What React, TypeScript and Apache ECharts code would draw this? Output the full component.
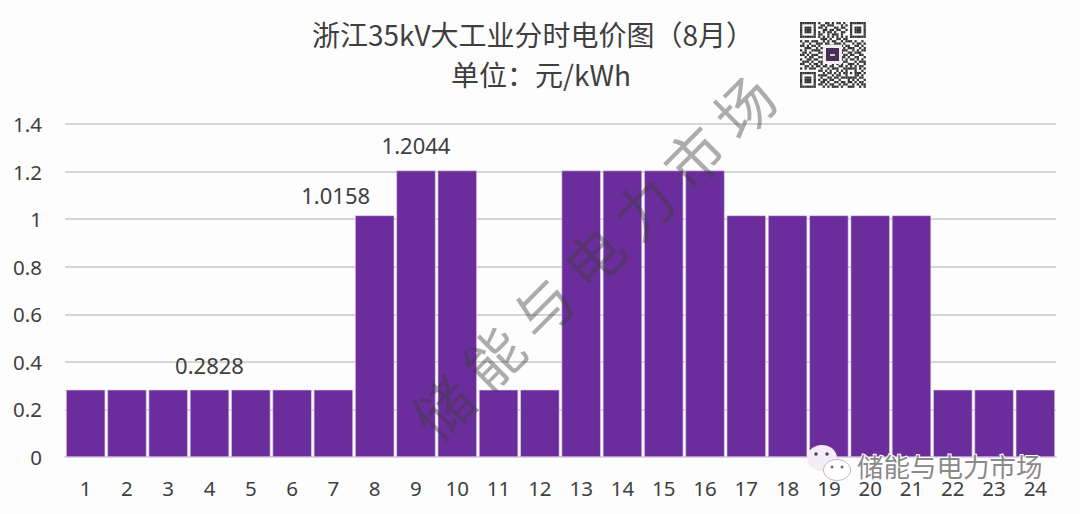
import React, { useEffect, useRef } from "react";
import * as echarts from "echarts";

const hours = ["1","2","3","4","5","6","7","8","9","10","11","12","13","14","15","16","17","18","19","20","21","22","23","24"];
const prices = [0.2828,0.2828,0.2828,0.2828,0.2828,0.2828,0.2828,1.0158,1.2044,1.2044,0.2828,0.2828,1.2044,1.2044,1.2044,1.2044,1.0158,1.0158,1.0158,1.0158,1.0158,0.2828,0.2828,0.2828];
const labelledHours = ["4","8","9"];
const titleLines = ["浙江35kV大工业分时电价图（8月）", "单位：元/kWh"];
const watermark = "储 能 与 电 力 市 场";
const account = "储能与电力市场";
const qrRows = [
  "11111110100110101101001111111",
  "10000010011011100010101000001",
  "10111010110100011011001011101",
  "10111010001101101100101011101",
  "10111010101011010011001011101",
  "10000010110010111010001000001",
  "11111110101010101010101111111",
  "00000000011101001101100000000",
  "10110111001010110010111010010",
  "01001001110110011101000101101",
  "11010110100101100110110011010",
  "00111001011011010001011100101",
  "10100111100100000011100101011",
  "01101000110100000010011011100",
  "11010111001100000001101100110",
  "00101100110100000011010011001",
  "10011011001100000010101101010",
  "01110100111011010101100010111",
  "11001011010100101010011101001",
  "00110101101101100110101010110",
  "10101110010010111001111110101",
  "00000000110101001010100010010",
  "11111110001011010101101011101",
  "10000010111100101100100011010",
  "10111010010011011011111110110",
  "10111010101101100100010101001",
  "10111010011010011011011010110",
  "10000010110101100101100101011",
  "11111110001010111010011100101",
];

const FONT = '"Noto Sans CJK SC", "Noto Sans", sans-serif';
const LATIN = '"Noto Sans", sans-serif';
const INK = "#3f3f3f";
const BAR = "#6c2d9c";

function qrGraphics() {
  const originX = 800, originY = 22, cell = 2.27;
  const out: any[] = [];
  qrRows.forEach((row, r) => {
    for (let c = 0; c < row.length; c++) {
      if (row[c] === "1") {
        out.push({
          type: "rect", z: 20, silent: true,
          shape: { x: originX + c * cell, y: originY + r * cell, width: cell, height: cell },
          style: { fill: "#333333" },
        });
      }
    }
  });
  out.push({ type: "rect", z: 21, silent: true, shape: { x: 823, y: 45, width: 19, height: 19 }, style: { fill: "#f3eef3" } });
  out.push({ type: "rect", z: 22, silent: true, shape: { x: 826, y: 48, width: 13, height: 13 }, style: { fill: "#4a2f55" } });
  out.push({ type: "rect", z: 23, silent: true, shape: { x: 830, y: 54, width: 5, height: 2 }, style: { fill: "#d9c6e2" } });
  return out;
}

function wechatGraphics() {
  const mk = (type: string, shape: any, style: any, z: number) => ({ type, shape, style, z, silent: true });
  return [
    mk("polygon", { points: [[813, 466], [812, 476], [823, 470]] }, { fill: "#ffffff" }, 30),
    mk("ellipse", { cx: 822, cy: 458, rx: 15, ry: 13 }, { fill: "#f4edf7" }, 30),
    mk("circle", { cx: 816, cy: 454, r: 1.8 }, { fill: "#5a4a60" }, 31),
    mk("circle", { cx: 827, cy: 454, r: 1.8 }, { fill: "#5a4a60" }, 31),
    mk("polygon", { points: [[842, 476], [846, 483], [835, 479]] }, { fill: "#ffffff" }, 32),
    mk("ellipse", { cx: 837, cy: 470, rx: 13.5, ry: 10.5 }, { fill: "#ffffff", stroke: "#bdbdbd", lineWidth: 1 }, 32),
    mk("circle", { cx: 832, cy: 467, r: 1.5 }, { fill: "#6d6d6d" }, 33),
    mk("circle", { cx: 842, cy: 467, r: 1.5 }, { fill: "#6d6d6d" }, 33),
  ];
}

export default function App() {
  const ref = useRef<HTMLDivElement>(null);
  useEffect(() => {
    document.body.style.margin = "0";
    const chart = echarts.init(ref.current!, null, { renderer: "svg" });
    const offsets: Record<string, number[]> = { "4": [0, -9], "8": [-39, -4], "9": [0, -10] };
    chart.setOption({
      animation: false,
      backgroundColor: "#fdfdfd",
      grid: { left: 65, right: 24, top: 124, bottom: 57 },
      xAxis: {
        type: "category",
        data: hours,
        axisTick: { show: false },
        axisLine: { lineStyle: { color: "#e2d2ea", width: 2 } },
        axisLabel: { color: INK, fontSize: 20.5, fontFamily: LATIN, margin: 20, interval: 0 },
      },
      yAxis: {
        type: "value",
        min: 0,
        max: 1.4,
        interval: 0.2,
        axisLine: { show: false },
        axisTick: { show: false },
        splitLine: { lineStyle: { color: "#d6d6d6", width: 2 } },
        axisLabel: { color: INK, fontSize: 20.5, fontFamily: LATIN, margin: 23 },
      },
      series: [{
        type: "bar",
        barWidth: "95%",
        itemStyle: { color: BAR, borderColor: "#e3d2ec", borderWidth: 0.6 },
        data: prices.map((v, i) => {
          const h = hours[i];
          return labelledHours.includes(h)
            ? {
                value: v,
                label: {
                  show: true,
                  position: "top",
                  offset: offsets[h],
                  formatter: v.toFixed(4),
                  color: INK,
                  fontSize: 22,
                  fontFamily: LATIN,
                },
              }
            : { value: v };
        }),
      }],
      graphic: [
        { type: "text", z: 10, silent: true, x: 533, y: 34, style: { text: titleLines[0], font: `28px ${FONT}`, fill: INK, align: "center", verticalAlign: "middle" } },
        { type: "text", z: 10, silent: true, x: 541, y: 74, style: { text: titleLines[1], font: `28px ${FONT}`, fill: INK, align: "center", verticalAlign: "middle" } },
        { type: "text", z: 15, silent: true, x: 592, y: 256, rotation: Math.PI / 4, style: { text: watermark, font: `58px ${FONT}`, fill: "rgba(60,60,60,0.42)", align: "center", verticalAlign: "middle" } },
        ...qrGraphics(),
        ...wechatGraphics(),
        { type: "text", z: 34, silent: true, x: 857, y: 465, style: { text: account, font: `26.5px ${FONT}`, fill: "#8a8a8a", stroke: "#ffffff", lineWidth: 2, align: "left", verticalAlign: "middle" } },
      ],
    });
    return () => chart.dispose();
  }, []);
  return <div ref={ref} style={{ position: "absolute", left: 0, top: 0, width: 1080, height: 514 }} />;
}
